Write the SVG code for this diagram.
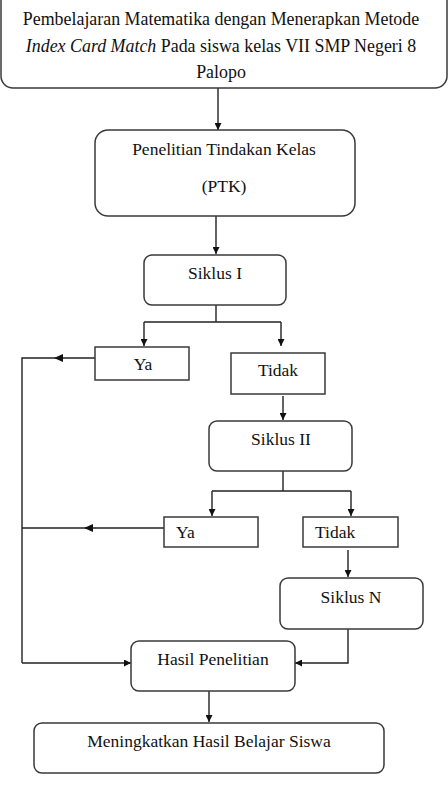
<svg xmlns="http://www.w3.org/2000/svg" width="448" height="799" viewBox="0 0 448 799">
<style>
.box{fill:#fff;stroke:#3a3a3a;stroke-width:1.5}
.t{font-family:'Liberation Serif','Times New Roman',serif;font-size:17.5px;fill:#111}
.big{font-size:17.9px}
.c{text-anchor:middle}
.ln{fill:none;stroke:#222;stroke-width:1.4}
.ah{fill:#111}
</style>
<defs>
<marker id="arr" viewBox="0 0 10 10" refX="10" refY="5" markerWidth="7" markerHeight="7" markerUnits="userSpaceOnUse" orient="auto">
<path d="M0,0 L10,5 L0,10 z" class="ah"/>
</marker>
</defs>
<rect width="448" height="799" fill="#fff"/>
<g id="connectors">
<line class="ln" x1="218" y1="88" x2="218" y2="130" marker-end="url(#arr)"/>
<line class="ln" x1="216" y1="216" x2="216" y2="254" marker-end="url(#arr)"/>
<polyline class="ln" points="216,305 216,322"/>
<polyline class="ln" points="144,322 281,322"/>
<line class="ln" x1="144" y1="322" x2="144" y2="346" marker-end="url(#arr)"/>
<line class="ln" x1="281" y1="322" x2="281" y2="346" marker-end="url(#arr)"/>
<polyline class="ln" points="95,358 22,358 22,663"/>
<polygon class="ah" points="54,358 63,354 63,362"/>
<line class="ln" x1="283" y1="396" x2="283" y2="420" marker-end="url(#arr)"/>
<polyline class="ln" points="283,471 283,491"/>
<polyline class="ln" points="212,491 351,491"/>
<line class="ln" x1="212" y1="491" x2="212" y2="516" marker-end="url(#arr)"/>
<line class="ln" x1="351" y1="491" x2="351" y2="516" marker-end="url(#arr)"/>
<polyline class="ln" points="164,528 22,528"/>
<polygon class="ah" points="84,528 93,524 93,532"/>
<line class="ln" x1="348" y1="550" x2="348" y2="577" marker-end="url(#arr)"/>
<polyline class="ln" points="22,663 131,663" marker-end="url(#arr)"/>
<polyline class="ln" points="348,629 348,663 295,663" marker-end="url(#arr)"/>
<line class="ln" x1="209" y1="691" x2="209" y2="722" marker-end="url(#arr)"/>
</g>
<g id="n_top">
<rect class="box" x="1" y="-14" width="446" height="102" rx="12"/>
<text class="t big c" x="221" y="25">Pembelajaran Matematika dengan Menerapkan Metode</text>
<text class="t big c" x="221" y="52"><tspan font-style="italic">Index Card Match</tspan> Pada siswa kelas VII SMP Negeri 8</text>
<text class="t big c" x="221" y="78">Palopo</text>
</g>
<g id="n_ptk">
<rect class="box" x="95" y="130" width="260" height="86" rx="13"/>
<text class="t c" x="224" y="155">Penelitian Tindakan Kelas</text>
<text class="t c" x="224" y="192">(PTK)</text>
</g>
<g id="n_siklus1">
<rect class="box" x="144" y="255" width="142" height="50" rx="8"/>
<text class="t c" x="215" y="279">Siklus I</text>
</g>
<g id="n_ya1">
<rect class="box" x="95" y="347" width="94" height="33"/>
<text class="t c" x="143" y="370">Ya</text>
</g>
<g id="n_tidak1">
<rect class="box" x="231" y="353" width="94" height="41"/>
<text class="t c" x="278" y="376">Tidak</text>
</g>
<g id="n_siklus2">
<rect class="box" x="209" y="421" width="143" height="50" rx="8"/>
<text class="t c" x="281" y="445">Siklus II</text>
</g>
<g id="n_ya2">
<rect class="box" x="164" y="517" width="94" height="30"/>
<text class="t" x="176" y="538">Ya</text>
</g>
<g id="n_tidak2">
<rect class="box" x="303" y="517" width="95" height="30"/>
<text class="t" x="315" y="538">Tidak</text>
</g>
<g id="n_siklusN">
<rect class="box" x="280" y="578" width="143" height="51" rx="8"/>
<text class="t c" x="351" y="603">Siklus N</text>
</g>
<g id="n_hasil">
<rect class="box" x="131" y="641" width="164" height="50" rx="8"/>
<text class="t c" x="213" y="665">Hasil Penelitian</text>
</g>
<g id="n_meningkatkan">
<rect class="box" x="34" y="723" width="350" height="50" rx="8"/>
<text class="t c" x="209" y="747">Meningkatkan Hasil Belajar Siswa</text>
</g>
</svg>
